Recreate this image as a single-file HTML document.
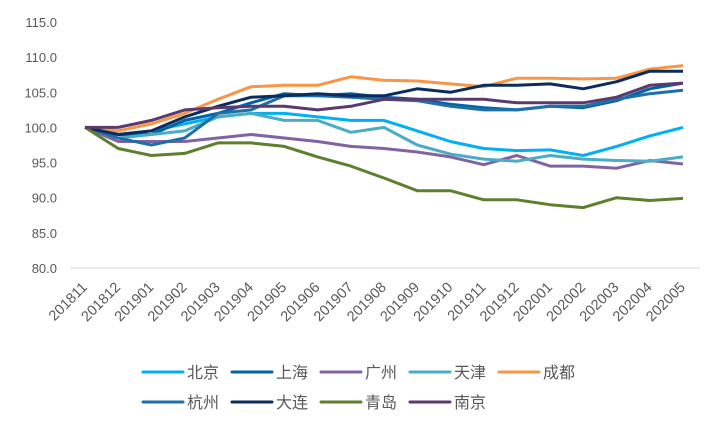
<!DOCTYPE html>
<html><head><meta charset="utf-8">
<style>
html,body{margin:0;padding:0;background:#fff;}
svg text{font-family:"Liberation Sans","Noto Sans CJK SC",sans-serif;}
</style></head>
<body>
<svg id="chart" width="720" height="432" xmlns="http://www.w3.org/2000/svg">
<g id="grid"></g><g id="series"></g><g id="legend"></g>
</svg>
<script>
const categories=["201811","201812","201901","201902","201903","201904","201905","201906","201907","201908","201909","201910","201911","201912","202001","202002","202003","202004","202005"];
const yTicks=[80,85,90,95,100,105,110,115];
const seriesNames=["北京","上海","广州","天津","成都","杭州","大连","青岛","南京"];
const seriesColors=["#00B0F0","#0063A6","#8064A2","#4BACC6","#F79646","#1F6FA8","#0B2D5E","#5E7F2E","#5B3A6E"];
const beijing=[100,99,99.5,100.5,101.5,102,102,101.5,101,101,99.5,98,97,96.7,96.8,96,97.3,98.8,100];
const shanghai=[100,99,99,101,102,103.5,104.8,104.5,104.8,104.3,104,103.3,102.8,102.5,103,102.8,103.8,105.5,106.3];
const guangzhou=[100,98,98,98,98.5,99,98.5,98,97.3,97,96.5,95.8,94.7,96,94.5,94.5,94.2,95.3,94.8];
const tianjin=[100,98.5,99,99.5,101.5,102,101,101,99.3,100,97.5,96.2,95.5,95.2,96,95.5,95.3,95.2,95.8];
const chengdu=[100,99.5,100.5,102,104,105.8,106,106,107.2,106.7,106.6,106.2,105.8,107,107,106.9,107,108.3,108.8];
const hangzhou=[100,98.5,97.5,98.5,102,102.5,104.5,104.5,104.3,104,103.8,103,102.5,102.5,103,103,104,104.8,105.3];
const dalian=[100,99,99.5,101.5,103,104.3,104.5,104.8,104.5,104.5,105.5,105,106,106,106.2,105.5,106.5,108,108];
const qingdao=[100,97,96,96.3,97.8,97.8,97.3,95.8,94.5,92.8,91,91,89.7,89.7,89,88.6,90,89.6,89.9];
const nanjing=[100,100,101,102.5,102.8,103,103,102.5,103,104,104,104,104,103.5,103.5,103.5,104.3,106,106.3];
const seriesData=[beijing,shanghai,guangzhou,tianjin,chengdu,hangzhou,dalian,qingdao,nanjing];

const NS="http://www.w3.org/2000/svg";
const x0=85,x1=683,yTop=22,yBot=268,vMin=80,vMax=115;
function xs(i){return x0+i*(x1-x0)/(categories.length-1);}
function ys(v){return yBot-(v-vMin)/(vMax-vMin)*(yBot-yTop);}
function mk(tag,attrs,parent){const e=document.createElementNS(NS,tag);for(const k in attrs)e.setAttribute(k,attrs[k]);parent.appendChild(e);return e;}
const grid=document.getElementById('grid');
const axis=mk('line',{x1:70,x2:700,y1:yBot,y2:yBot,stroke:'#d9d9d9','stroke-width':1},grid);


yTicks.forEach(v=>{
  const t=mk('text',{x:57,y:ys(v)+5,'text-anchor':'end','font-size':13,fill:'#595959'},grid);
  t.textContent=v.toFixed(1);
  
  
});
categories.forEach((c,i)=>{
  const x=xs(i)+3,y=yBot+20;
  const t=mk('text',{x:x,y:y,'text-anchor':'end','font-size':14.5,fill:'#595959',transform:`rotate(-45 ${x} ${y})`},grid);
  t.textContent=c;
  
  
});
const sg=document.getElementById('series');
seriesData.forEach((d,s)=>{
  const pts=d.map((v,i)=>xs(i).toFixed(1)+','+ys(v).toFixed(1)).join(' ');
  const p=mk('polyline',{points:pts,fill:'none',stroke:seriesColors[s],'stroke-width':3,'stroke-linejoin':'round'},sg);
  
  
});
const lg=document.getElementById('legend');
seriesNames.forEach((n,s)=>{
  const row=s<5?0:1,col=s<5?s:s-5;
  const lx=143+col*89,ly=372+row*30;
  const g=mk('g',{},lg);
  
  
  mk('line',{x1:lx,x2:lx+40,y1:ly,y2:ly,stroke:seriesColors[s],'stroke-width':3,'stroke-linecap':'round'},g);
  const t=mk('text',{x:lx+44,y:ly+6,'font-size':16,fill:'#595959'},g);
  t.textContent=n;
});
</script>
</body></html>
